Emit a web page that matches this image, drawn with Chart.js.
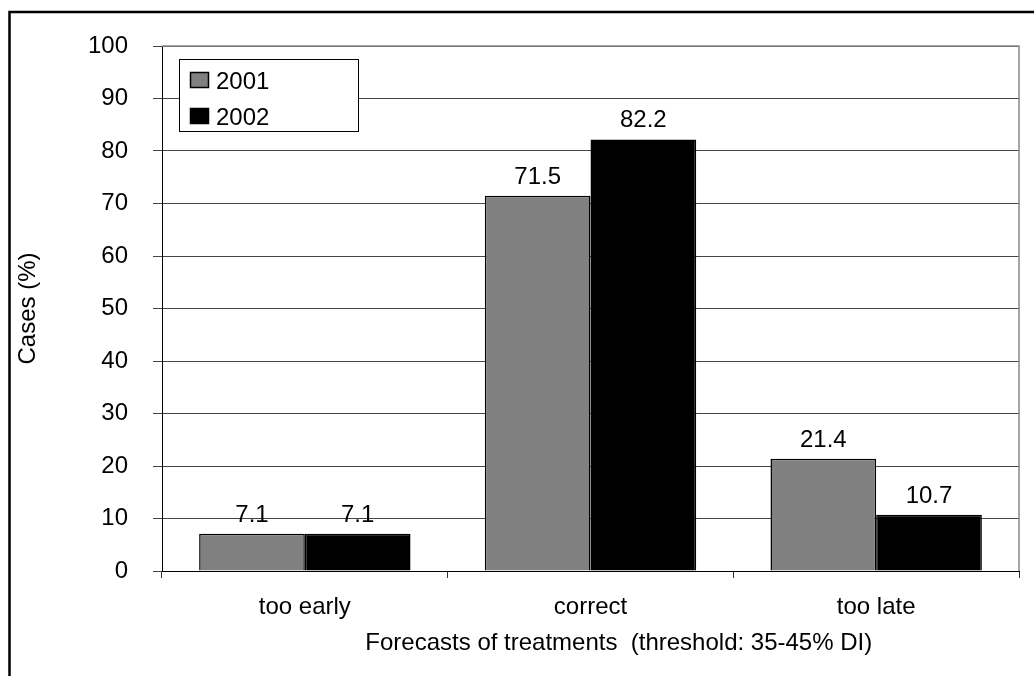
<!DOCTYPE html>
<html>
<head>
<meta charset="utf-8">
<script src="https://cdn.jsdelivr.net/npm/chart.js@4.4.1/dist/chart.umd.min.js"></script>
<style>
  html, body { margin: 0; padding: 0; background: #fff; }
  #wrap { position: relative; width: 1034px; height: 676px; }
  canvas { position: absolute; left: 0; top: 0; }
</style>
</head>
<body>
<div id="wrap"><canvas id="c" width="1034" height="676"></canvas></div>
<script>
// Forecast outcome categories and the share of cases per year
const categories = ['too early', 'correct', 'too late'];
const seriesNames = ['2001', '2002'];
const values2001 = [7.1, 71.5, 21.4];
const values2002 = [7.1, 82.2, 10.7];
const yTicks = [0, 10, 20, 30, 40, 50, 60, 70, 80, 90, 100];
const yTitle = 'Cases (%)';
const xTitle = 'Forecasts of treatments  (threshold: 35-45% DI)';

const FONT = 'Liberation Sans, Arial, sans-serif';
const FS = 24;
const GRAY = '#808080';

// Outer frame, plot border, axis title, value labels and the inset legend
const decorations = {
  id: 'decorations',
  beforeDraw(chart) {
    const ctx = chart.ctx;
    ctx.save();
    ctx.fillStyle = '#fff';
    ctx.fillRect(0, 0, chart.width, chart.height);
    ctx.strokeStyle = '#000';
    ctx.lineWidth = 2.5;
    ctx.beginPath();
    ctx.moveTo(9.5, chart.height + 5);
    ctx.lineTo(9.5, 12);
    ctx.lineTo(chart.width + 5, 12);
    ctx.stroke();
    ctx.restore();
  },
  afterDatasetsDraw(chart) {
    const ctx = chart.ctx;
    const a = chart.chartArea;
    ctx.save();
    // plot area border (top and right)
    ctx.strokeStyle = '#888';
    ctx.lineWidth = 1.5;
    ctx.beginPath();
    ctx.moveTo(a.left, a.top);
    ctx.lineTo(a.right, a.top);
    ctx.lineTo(a.right, a.bottom);
    ctx.stroke();

    // category axis title, set a little right of the plot centre
    ctx.fillStyle = '#000';
    ctx.font = FS + 'px ' + FONT;
    ctx.textAlign = 'center';
    ctx.textBaseline = 'alphabetic';
    ctx.fillText(xTitle, a.left + (a.right - a.left) * 0.533, 650);

    // value labels above bars
    chart.data.datasets.forEach((ds, di) => {
      chart.getDatasetMeta(di).data.forEach((bar, i) => {
        ctx.fillText(ds.data[i].toFixed(1), bar.x, bar.y - 12);
      });
    });

    // legend box
    const lx = 179.5, ly = 59.5, lw = 179, lh = 72;
    ctx.fillStyle = '#fff';
    ctx.fillRect(lx, ly, lw, lh);
    ctx.strokeStyle = '#000';
    ctx.lineWidth = 1;
    ctx.strokeRect(lx, ly, lw, lh);
    const rows = [80, 116];
    chart.data.datasets.forEach((ds, di) => {
      const cy = rows[di];
      ctx.fillStyle = ds.backgroundColor;
      ctx.fillRect(190, cy - 8, 19, 16);
      ctx.strokeStyle = '#000';
      ctx.lineWidth = 1.5;
      ctx.strokeRect(190.5, cy - 7.5, 18, 15);
      ctx.fillStyle = '#000';
      ctx.textAlign = 'left';
      ctx.fillText(ds.label, 216, cy + 8.5);
    });
    ctx.restore();
  }
};

new Chart(document.getElementById('c'), {
  type: 'bar',
  data: {
    labels: categories,
    datasets: [
      { label: seriesNames[0], data: values2001, backgroundColor: GRAY, borderColor: '#000', borderWidth: 1.5 },
      { label: seriesNames[1], data: values2002, backgroundColor: '#000', borderColor: '#000', borderWidth: 1.5 }
    ]
  },
  options: {
    responsive: false,
    animation: false,
    layout: { padding: { left: 0, top: 46, right: 15, bottom: 0 } },
    datasets: { bar: { categoryPercentage: 0.74, barPercentage: 1.0 } },
    plugins: { legend: { display: false }, tooltip: { enabled: false } },
    scales: {
      x: {
        grid: { display: true, drawOnChartArea: false, drawTicks: true, tickLength: 7, offset: true, color: '#333', lineWidth: 1 },
        border: { display: true, color: '#000', width: 1 },
        ticks: { color: '#000', font: { family: FONT, size: FS }, padding: 15 },
        title: { display: false },
        afterFit(scale) { scale.height = 676 - 571; }
      },
      y: {
        min: 0, max: 100,
        afterBuildTicks(scale) { scale.ticks = yTicks.map(v => ({ value: v })); },
        grid: { color: '#444', lineWidth: 1, drawTicks: true, tickLength: 9 },
        border: { display: true, color: '#000', width: 1 },
        ticks: { color: '#000', font: { family: FONT, size: FS }, padding: 25 },
        title: { display: true, text: yTitle, color: '#000', font: { family: FONT, size: FS }, padding: { top: 13.6, bottom: 0 } },
        afterFit(scale) { scale.width = 162; }
      }
    }
  },
  plugins: [decorations]
});
</script>
</body>
</html>
